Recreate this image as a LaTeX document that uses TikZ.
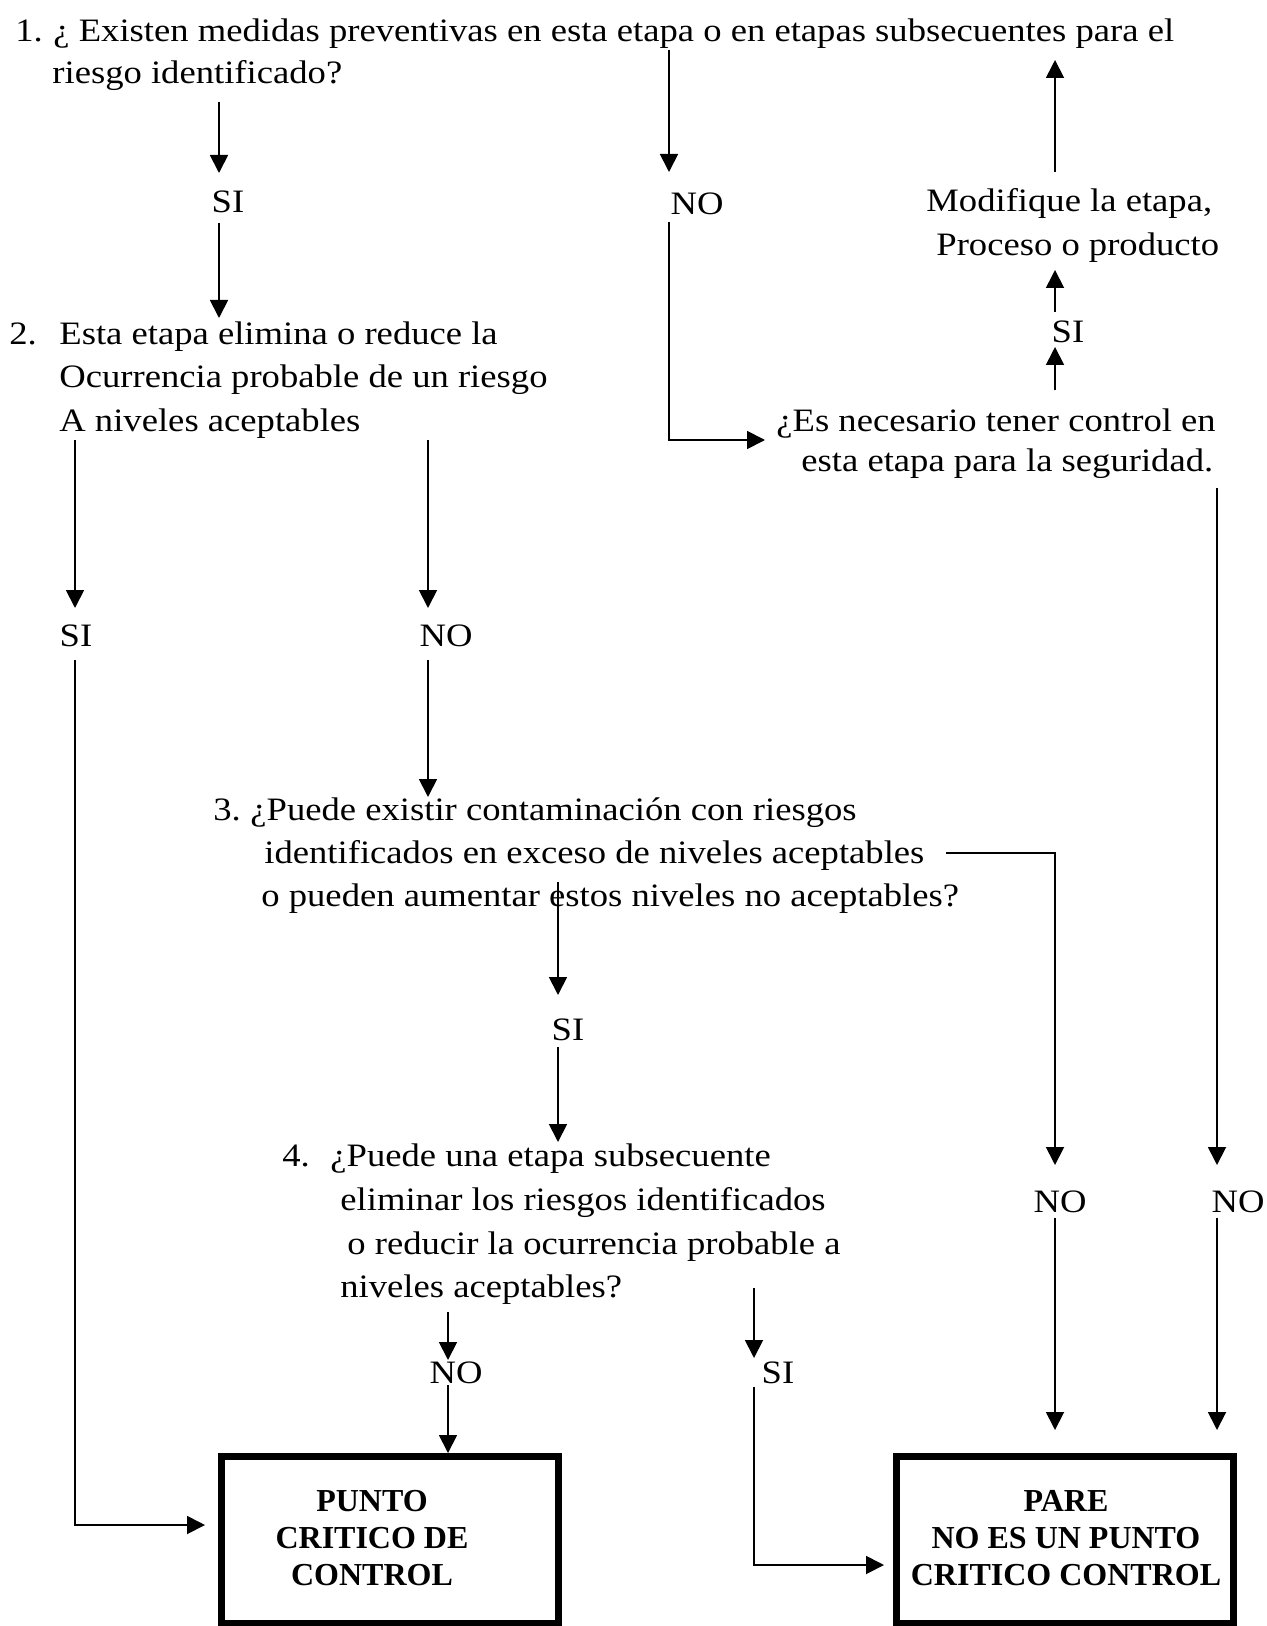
\documentclass[tikz,border=0pt]{standalone}
\usepackage{fontspec}
\setmainfont{Liberation Serif}[FakeStretch=1.12]
\newfontfamily\boxfont{Liberation Serif}
\usetikzlibrary{arrows.meta}
\begin{document}
\begin{tikzpicture}[x=0.5pt,y=-0.5pt,
  txt/.style={anchor=base west, inner sep=0pt, font=\fontsize{16.35}{20}\selectfont},
  lbl/.style={anchor=center, inner sep=0pt, font=\fontsize{16.35}{20}\selectfont},
  arr/.style={line width=0.9pt, -{Triangle[width=9pt,length=9pt]}},
  ln/.style={line width=0.9pt},
  box/.style={draw, line width=3.5pt, minimum width=168.5pt, minimum height=83.5pt, inner sep=0pt},
  boxtext/.style={align=center, inner sep=0pt, font=\boxfont\bfseries\fontsize{16}{18.5}\selectfont}]
\useasboundingbox (0,0) rectangle (1266,1626);

% ---- texts ----
\node[txt] (n1) at (15,42) {1.};
\node[txt] (q1a) at (53,42) {¿ Existen medidas preventivas en esta etapa o en etapas subsecuentes para el};
\node[txt] (q1b) at (52,84) {riesgo identificado?};
\node[lbl] (si1) at (228,202) {SI};
\node[lbl] (no1) at (697,204) {NO};
\node[txt] (mod1) at (926,212) {Modifique la etapa,};
\node[txt] (mod2) at (936,256) {Proceso o producto};
\node[lbl] (si2) at (1068,332) {SI};
\node[txt] (n2) at (9,344) {2.};
\node[txt] (q2a) at (59,344) {Esta etapa elimina o reduce la};
\node[txt] (q2b) at (59,387) {Ocurrencia probable de un riesgo};
\node[txt] (q2c) at (59,431) {A niveles aceptables};
\node[txt] (es1) at (776,431) {¿Es necesario tener control en};
\node[txt] (es2) at (801,471) {esta etapa para la seguridad.};
\node[lbl] (si3) at (76,636) {SI};
\node[lbl] (no3) at (446,636) {NO};
\node[txt] (n3) at (213,820) {3.};
\node[txt] (q3a) at (250,820) {¿Puede existir contaminación con riesgos};
\node[txt] (q3b) at (264,863) {identificados en exceso de niveles aceptables};
\node[txt] (q3c) at (261,906) {o pueden aumentar estos niveles no aceptables?};
\node[lbl] (si4) at (568,1030) {SI};
\node[txt] (n4) at (282,1166) {4.};
\node[txt] (q4a) at (330,1166) {¿Puede una etapa subsecuente};
\node[txt] (q4b) at (340,1210) {eliminar los riesgos identificados};
\node[txt] (q4c) at (347,1254) {o reducir la ocurrencia probable a};
\node[txt] (q4d) at (340,1297) {niveles aceptables?};
\node[lbl] (no4) at (1060,1202) {NO};
\node[lbl] (no5) at (1238,1202) {NO};
\node[lbl] (no6) at (456,1373) {NO};
\node[lbl] (si5) at (778,1373) {SI};

% ---- boxes ----
\node[box] (box1) at (390,1540) {};
\node[boxtext] (box1t) at (372,1538) {PUNTO\\CRITICO DE\\CONTROL};
\node[box] (box2) at (1064.5,1540) {};
\node[boxtext] (box2t) at (1066,1538) {PARE\\NO ES UN PUNTO\\CRITICO CONTROL};

% ---- connector end points ----
\coordinate (a1s) at (219,102);  \coordinate (a1e) at (219,173);
\coordinate (a2s) at (219,223);  \coordinate (a2e) at (219,318);
\coordinate (b1s) at (669,50);   \coordinate (b1e) at (669,172);
\coordinate (b2s) at (669,222);  \coordinate (b2c) at (669,440); \coordinate (b2e) at (765,440);
\coordinate (c1s) at (1055,390); \coordinate (c1e) at (1055,347);
\coordinate (c2s) at (1055,312); \coordinate (c2e) at (1055,270);
\coordinate (ds) at (1055,172);  \coordinate (de) at (1055,60);
\coordinate (e1s) at (75,440);   \coordinate (e1e) at (75,608);
\coordinate (e2s) at (75,660);   \coordinate (e2c) at (75,1525);  \coordinate (e2e) at (205,1525);
\coordinate (f1s) at (428,440);  \coordinate (f1e) at (428,608);
\coordinate (f2s) at (428,660);  \coordinate (f2e) at (428,797);
\coordinate (gs) at (946,853);   \coordinate (gc) at (1055,853);  \coordinate (ge) at (1055,1165);
\coordinate (hs) at (1217,488);  \coordinate (he) at (1217,1165);
\coordinate (i1s) at (558,882);  \coordinate (i1e) at (558,995);
\coordinate (i2s) at (558,1047); \coordinate (i2e) at (558,1142);
\coordinate (j1s) at (448,1312); \coordinate (j1e) at (448,1360);
\coordinate (j2s) at (448,1385); \coordinate (j2e) at (448,1453);
\coordinate (k1s) at (754,1288); \coordinate (k1e) at (754,1358);
\coordinate (k2s) at (754,1387); \coordinate (k2c) at (754,1565); \coordinate (k2e) at (884,1565);
\coordinate (m1s) at (1055,1218); \coordinate (m1e) at (1055,1430);
\coordinate (m2s) at (1217,1218); \coordinate (m2e) at (1217,1430);

% ---- connectors ----
\draw[arr] (a1s) -- (a1e);
\draw[arr] (a2s) -- (a2e);
\draw[arr] (b1s) -- (b1e);
\draw[arr] (b2s) -- (b2c) -- (b2e);
\draw[arr] (c1s) -- (c1e);
\draw[arr] (c2s) -- (c2e);
\draw[arr] (ds) -- (de);
\draw[arr] (e1s) -- (e1e);
\draw[arr] (e2s) -- (e2c) -- (e2e);
\draw[arr] (f1s) -- (f1e);
\draw[arr] (f2s) -- (f2e);
\draw[arr] (gs) -- (gc) -- (ge);
\draw[arr] (hs) -- (he);
\draw[arr] (i1s) -- (i1e);
\draw[arr] (i2s) -- (i2e);
\draw[arr] (j1s) -- (j1e);
\draw[arr] (j2s) -- (j2e);
\draw[arr] (k1s) -- (k1e);
\draw[arr] (k2s) -- (k2c) -- (k2e);
\draw[arr] (m1s) -- (m1e);
\draw[arr] (m2s) -- (m2e);
\end{tikzpicture}
\end{document}
